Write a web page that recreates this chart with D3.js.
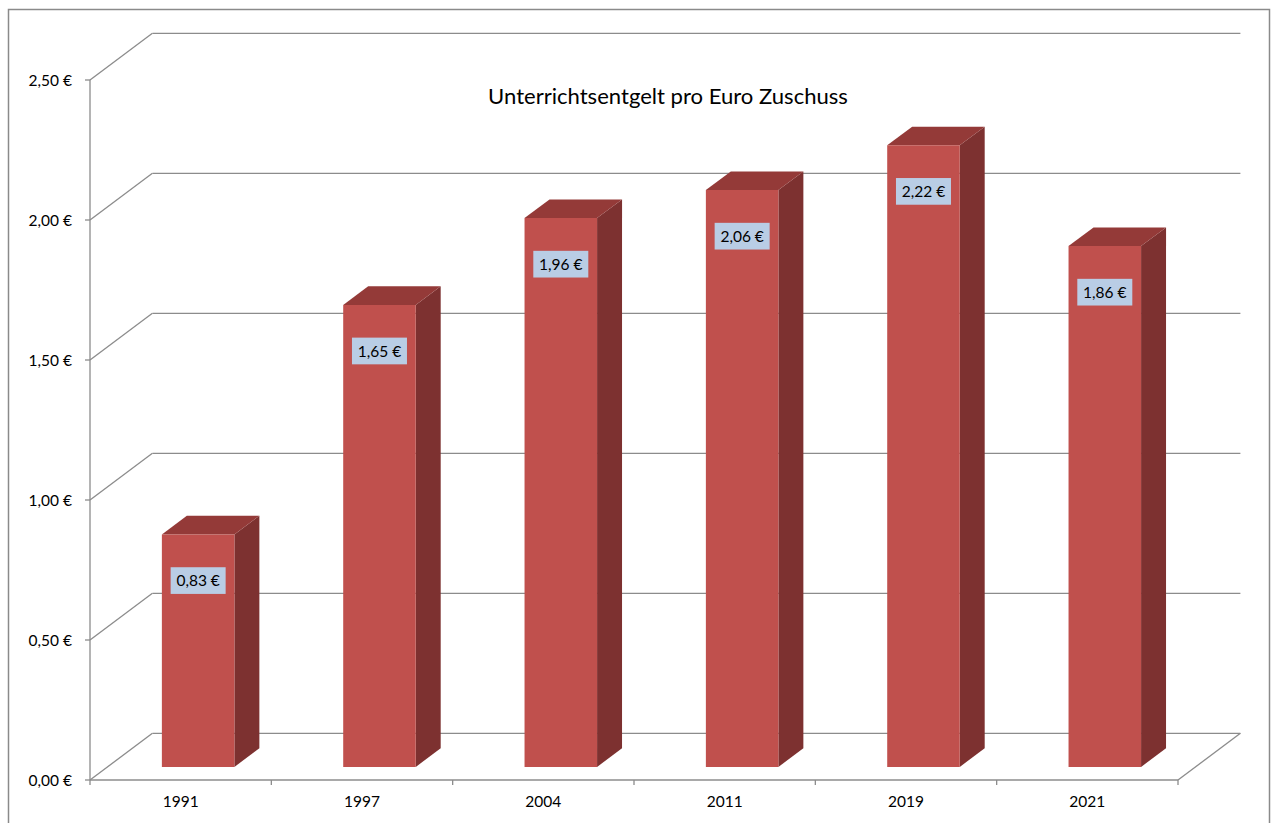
<!DOCTYPE html>
<html><head><meta charset="utf-8">
<script src="https://cdn.jsdelivr.net/npm/d3@7"></script>
<style>html,body{margin:0;padding:0;background:#fff;}svg{display:block;}</style>
</head><body>
<svg id="chart" width="1274" height="823"></svg>
<script>
const categories = ["1991","1997","2004","2011","2019","2021"];
const values = [0.83, 1.65, 1.96, 2.06, 2.22, 1.86];
const valueLabels = ["0,83 €","1,65 €","1,96 €","2,06 €","2,22 €","1,86 €"];
const yTicks = [0, 0.5, 1.0, 1.5, 2.0, 2.5];
const yTickLabels = ["0,00 €","0,50 €","1,00 €","1,50 €","2,00 €","2,50 €"];
const title = "Unterrichtsentgelt pro Euro Zuschuss";

const svg = d3.select("#chart");
const font = "Lato, 'Open Sans', sans-serif";
const gridCol = "#8c8c8c";
const fs = 15.5;

// outer border
svg.append("rect").attr("x",8.5).attr("y",9.5).attr("width",1261).attr("height",830)
  .attr("fill","none").attr("stroke","#8a8a8a").attr("stroke-width",1.5);

const x = d3.scaleBand().domain(categories).range([90,1178]).paddingInner(0).paddingOuter(0);
const y = d3.scaleLinear().domain([0,2.5]).range([780,80]);
const DX = 62.4, DY = -46.7; // full depth offset
const P = (px,py,f)=>[px+f*DX, py+f*DY];

const g = svg.append("g");
// back wall gridlines + side wall diagonals
yTicks.forEach(t=>{
  const [bx,by] = P(90,y(t),1);
  g.append("line").attr("x1",90).attr("y1",y(t)).attr("x2",bx).attr("y2",by)
    .attr("stroke",gridCol).attr("stroke-width",1.3);
  g.append("line").attr("x1",bx).attr("y1",by).attr("x2",1178+DX).attr("y2",by)
    .attr("stroke",gridCol).attr("stroke-width",1.3);
});
{
  const [bx,by] = P(1178,y(0),1);
  g.append("line").attr("x1",1178).attr("y1",y(0)).attr("x2",bx).attr("y2",by)
    .attr("stroke",gridCol).attr("stroke-width",1.3);
}
// y axis
g.append("line").attr("x1",90).attr("y1",y(0)).attr("x2",90).attr("y2",y(2.5))
  .attr("stroke",gridCol).attr("stroke-width",1.3);
yTicks.forEach((t,i)=>{
  g.append("line").attr("x1",85).attr("y1",y(t)).attr("x2",90).attr("y2",y(t))
    .attr("stroke",gridCol).attr("stroke-width",1.3);
  g.append("text").attr("x",72).attr("y",y(t)+1).attr("dy","0.35em")
    .attr("text-anchor","end").attr("font-family",font).attr("font-size",fs)
    .attr("fill","#000").text(yTickLabels[i]);
});
// x axis
g.append("line").attr("x1",90).attr("y1",y(0)).attr("x2",1178).attr("y2",y(0))
  .attr("stroke",gridCol).attr("stroke-width",1.3);
categories.forEach((c,i)=>{
  const xs = x(c);
  g.append("line").attr("x1",xs).attr("y1",780).attr("x2",xs).attr("y2",785)
    .attr("stroke",gridCol).attr("stroke-width",1.3);
  g.append("text").attr("x",xs + x.bandwidth()/2).attr("y",802).attr("dy","0.35em")
    .attr("text-anchor","middle").attr("font-family",font).attr("font-size",fs)
    .attr("fill","#000").text(c);
});
g.append("line").attr("x1",1178).attr("y1",780).attr("x2",1178).attr("y2",785)
  .attr("stroke",gridCol).attr("stroke-width",1.3);

// bars
const f1 = 0.28, f2 = 0.68;
const bw = x.bandwidth()*0.4;
const bars = g.append("g");
categories.forEach((c,i)=>{
  const v = values[i];
  const x0 = x(c) + (x.bandwidth()-bw)/2, x1 = x0 + bw;
  const yb = y(0), yt = y(v);
  const A = P(x0,yt,f1), B = P(x1,yt,f1), C = P(x1,yb,f1), Dd = P(x0,yb,f1);
  const B2 = P(x1,yt,f2), C2 = P(x1,yb,f2), A2 = P(x0,yt,f2);
  const poly = pts => pts.map(p=>p.join(",")).join(" ");
  bars.append("polygon").attr("points",poly([B,B2,C2,C])).attr("fill","#7d3130");
  bars.append("polygon").attr("points",poly([A,A2,B2,B])).attr("fill","#943a38");
  bars.append("polygon").attr("points",poly([A,B,C,Dd])).attr("fill","#c0504d");
  const cx = (A[0]+B[0])/2, cy = A[1] + 46;
  bars.append("rect").attr("x",cx-27.5).attr("y",cy-13.3).attr("width",55).attr("height",26.7)
    .attr("fill","#b9cde5");
  bars.append("text").attr("x",cx).attr("y",cy).attr("dy","0.36em").attr("text-anchor","middle")
    .attr("font-family",font).attr("font-size",fs).attr("fill","#000").text(valueLabels[i]);
});

// title
const tt = svg.append("text").attr("x",668).attr("y",96).attr("dy","0.35em")
  .attr("text-anchor","middle").attr("font-family",font).attr("font-size",20)
  .attr("fill","#000").text(title);
const w = tt.node().getComputedTextLength();
tt.attr("font-size", 20*360/w);
</script>
</body></html>
